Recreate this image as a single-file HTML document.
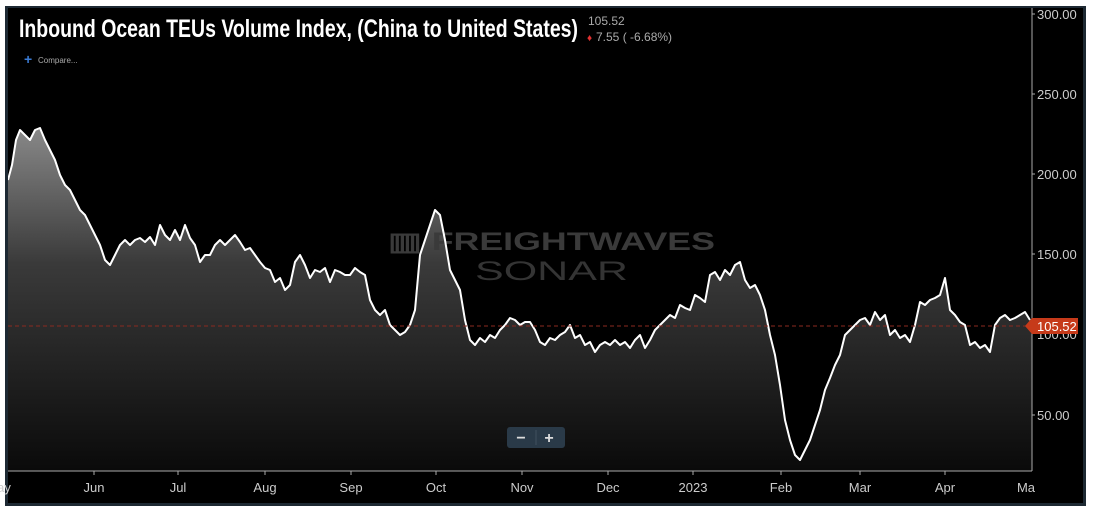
<!DOCTYPE html>
<html><head><meta charset="utf-8"><style>
body{margin:0;background:#fff;width:1106px;height:516px;overflow:hidden;font-family:"Liberation Sans",sans-serif}
</style></head><body>
<svg width="1106" height="516" viewBox="0 0 1106 516" xmlns="http://www.w3.org/2000/svg" style="position:absolute;left:0;top:0">
<defs>
<linearGradient id="g" gradientUnits="userSpaceOnUse" x1="0" y1="125" x2="0" y2="471">
<stop offset="0" stop-color="#8a8a8a"/><stop offset="0.4" stop-color="#3a3a3a"/><stop offset="1" stop-color="#0a0a0a"/>
</linearGradient>
<clipPath id="c"><rect x="8" y="8" width="1024" height="463"/></clipPath>
</defs>
<rect x="5" y="6" width="1081" height="500" fill="#1d2933"/>
<rect x="8" y="8" width="1075" height="495" fill="#000"/>
<g clip-path="url(#c)">
<path fill="url(#g)" d="M8,471 L8,180 12,165 16,140 20,130 25,135 30,140 35,130 40,128 45,140 50,150 55,160 60,175 65,185 70,190 75,200 80,210 85,215 90,225 95,235 100,245 105,260 110,265 115,255 120,245 125,240 130,245 135,240 140,238 145,242 150,237 155,245 160,225 165,235 170,240 175,230 180,240 185,225 190,238 195,245 200,262 205,255 210,255 215,245 220,240 225,245 230,240 235,235 240,242 245,250 250,248 255,255 260,262 265,268 270,270 275,282 280,278 285,290 290,285 295,262 300,255 305,265 310,278 315,270 320,272 325,268 330,282 335,270 340,272 345,275 350,275 355,268 360,272 365,275 370,300 375,310 380,315 385,310 390,325 395,330 400,335 405,332 410,325 415,310 420,255 425,240 430,225 435,210 440,215 445,240 450,270 455,280 460,290 465,320 470,340 475,345 480,338 485,342 490,335 495,338 500,330 505,325 510,318 515,320 520,325 525,322 530,322 535,330 540,342 545,345 550,338 555,340 560,335 565,332 570,325 575,338 580,335 585,345 590,342 595,352 600,345 605,342 610,345 615,340 620,345 625,342 630,348 635,340 640,335 645,348 650,340 655,330 660,325 665,320 670,315 675,318 680,305 685,308 690,310 695,295 700,298 705,302 710,275 715,272 720,280 725,270 730,275 735,265 740,262 745,280 750,288 755,285 760,295 765,310 770,335 775,355 780,385 785,420 790,440 795,455 800,460 805,450 810,440 815,425 820,410 825,390 830,378 835,365 840,355 845,335 850,330 855,325 860,320 865,318 870,325 875,312 880,320 885,315 890,335 895,330 900,338 905,335 910,342 915,325 920,302 925,305 930,300 935,298 940,295 945,278 950,310 955,315 960,322 965,325 970,345 975,342 980,348 985,345 990,352 995,325 1000,318 1005,315 1010,320 1015,318 1020,315 1025,312 1030,320 1032,320 1032,471 Z"/>
<text x="388" y="250" textLength="327" lengthAdjust="spacingAndGlyphs" font-size="25" font-weight="bold" fill="#3a3a3a">▥ FREIGHTWAVES</text>
<text x="475" y="280" textLength="153" lengthAdjust="spacingAndGlyphs" font-size="27" fill="#343434">SONAR</text>
<polyline fill="none" stroke="#fff" stroke-width="2" stroke-linejoin="round" points="8,180 12,165 16,140 20,130 25,135 30,140 35,130 40,128 45,140 50,150 55,160 60,175 65,185 70,190 75,200 80,210 85,215 90,225 95,235 100,245 105,260 110,265 115,255 120,245 125,240 130,245 135,240 140,238 145,242 150,237 155,245 160,225 165,235 170,240 175,230 180,240 185,225 190,238 195,245 200,262 205,255 210,255 215,245 220,240 225,245 230,240 235,235 240,242 245,250 250,248 255,255 260,262 265,268 270,270 275,282 280,278 285,290 290,285 295,262 300,255 305,265 310,278 315,270 320,272 325,268 330,282 335,270 340,272 345,275 350,275 355,268 360,272 365,275 370,300 375,310 380,315 385,310 390,325 395,330 400,335 405,332 410,325 415,310 420,255 425,240 430,225 435,210 440,215 445,240 450,270 455,280 460,290 465,320 470,340 475,345 480,338 485,342 490,335 495,338 500,330 505,325 510,318 515,320 520,325 525,322 530,322 535,330 540,342 545,345 550,338 555,340 560,335 565,332 570,325 575,338 580,335 585,345 590,342 595,352 600,345 605,342 610,345 615,340 620,345 625,342 630,348 635,340 640,335 645,348 650,340 655,330 660,325 665,320 670,315 675,318 680,305 685,308 690,310 695,295 700,298 705,302 710,275 715,272 720,280 725,270 730,275 735,265 740,262 745,280 750,288 755,285 760,295 765,310 770,335 775,355 780,385 785,420 790,440 795,455 800,460 805,450 810,440 815,425 820,410 825,390 830,378 835,365 840,355 845,335 850,330 855,325 860,320 865,318 870,325 875,312 880,320 885,315 890,335 895,330 900,338 905,335 910,342 915,325 920,302 925,305 930,300 935,298 940,295 945,278 950,310 955,315 960,322 965,325 970,345 975,342 980,348 985,345 990,352 995,325 1000,318 1005,315 1010,320 1015,318 1020,315 1025,312 1030,320"/>
</g>
<line x1="8" y1="326" x2="1032" y2="326" stroke="#8b2a20" stroke-dasharray="4,3"/>
<line x1="1032" y1="8" x2="1032" y2="471" stroke="#aaa"/>
<line x1="8" y1="471" x2="1032" y2="471" stroke="#aaa"/>
<g fill="#ccc" font-size="13">
<text x="1037" y="19">300.00</text><text x="1037" y="99">250.00</text><text x="1037" y="179">200.00</text><text x="1037" y="259">150.00</text><text x="1037" y="339">100.00</text><text x="1037" y="420">50.00</text>
</g>
<g stroke="#aaa"><line x1="1032" y1="14" x2="1035" y2="14"/><line x1="1032" y1="94" x2="1035" y2="94"/><line x1="1032" y1="174" x2="1035" y2="174"/><line x1="1032" y1="254" x2="1035" y2="254"/><line x1="1032" y1="415" x2="1035" y2="415"/></g>
<path d="M1025,326 L1032,318 L1078,318 L1078,334 L1032,334 Z" fill="#c63a1a"/>
<text x="1037" y="331" fill="#fff" font-size="13">105.52</text>
<g fill="#ccc" font-size="13" text-anchor="middle">
<text x="4" y="492">ay</text><text x="94" y="492">Jun</text><text x="178" y="492">Jul</text><text x="265" y="492">Aug</text><text x="351" y="492">Sep</text><text x="436" y="492">Oct</text><text x="522" y="492">Nov</text><text x="608" y="492">Dec</text><text x="693" y="492">2023</text><text x="781" y="492">Feb</text><text x="860" y="492">Mar</text><text x="945" y="492">Apr</text><text x="1026" y="492">Ma</text>
</g>
<g stroke="#aaa"><line x1="94" y1="471" x2="94" y2="475"/><line x1="178" y1="471" x2="178" y2="475"/><line x1="265" y1="471" x2="265" y2="475"/><line x1="351" y1="471" x2="351" y2="475"/><line x1="436" y1="471" x2="436" y2="475"/><line x1="522" y1="471" x2="522" y2="475"/><line x1="608" y1="471" x2="608" y2="475"/><line x1="693" y1="471" x2="693" y2="475"/><line x1="781" y1="471" x2="781" y2="475"/><line x1="860" y1="471" x2="860" y2="475"/><line x1="945" y1="471" x2="945" y2="475"/></g>
<rect x="507" y="427" width="58" height="21" rx="3" fill="#2a3a48"/>
<line x1="536" y1="430" x2="536" y2="445" stroke="#40505e"/>
<text x="521" y="443" fill="#ddd" font-size="16" font-weight="bold" text-anchor="middle">−</text>
<text x="549" y="443" fill="#ddd" font-size="16" font-weight="bold" text-anchor="middle">+</text>
<text x="19" y="37" fill="#fff" font-size="25" font-weight="bold" textLength="559" lengthAdjust="spacingAndGlyphs">Inbound Ocean TEUs Volume Index, (China to United States)</text>
<text x="588" y="25" fill="#aaa" font-size="12">105.52</text>
<text x="587" y="41" fill="#e03030" font-size="10">♦</text>
<text x="596" y="41" fill="#aaa" font-size="12">7.55 ( -6.68%)</text>
<text x="24" y="64" fill="#3a7bd5" font-size="14" font-weight="bold">+</text>
<text x="38" y="63" fill="#aaa" font-size="8">Compare...</text>
</svg>
</body></html>
